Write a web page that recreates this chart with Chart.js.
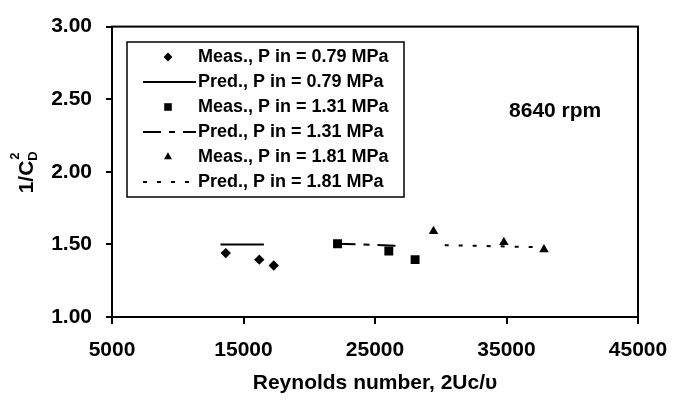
<!DOCTYPE html>
<html>
<head>
<meta charset="utf-8">
<script src="https://cdn.jsdelivr.net/npm/chart.js@4.4.1/dist/chart.umd.min.js"></script>
<style>
  html, body { margin: 0; padding: 0; background: #fff; }
  #wrap { width: 688px; height: 403px; }
</style>
</head>
<body>
<div id="wrap"><canvas id="cd"></canvas></div>
<script>
// values
var meas079X = [13650, 16200, 17300];
var meas079Y = [1.44, 1.395, 1.355];
var pred079X = [13250, 16550];
var pred079Y = [1.50, 1.50];
var meas131X = [22150, 26050, 28050];
var meas131Y = [1.505, 1.455, 1.395];
var pred131X = [22150, 26900];
var pred131Y = [1.505, 1.49];
var meas181X = [29450, 34800, 37850];
var meas181Y = [1.59, 1.515, 1.465];
var pred181X = [30300, 37850];
var pred181Y = [1.495, 1.48];

var seriesLabels = [
    'Meas., P in = 0.79 MPa', 'Pred., P in = 0.79 MPa',
    'Meas., P in = 1.31 MPa', 'Pred., P in = 1.31 MPa',
    'Meas., P in = 1.81 MPa', 'Pred., P in = 1.81 MPa'
];
var xTicks = [5000, 15000, 25000, 35000, 45000];
var yTicks = [1.00, 1.50, 2.00, 2.50, 3.00];
var speedNote = '8640 rpm';

var FONT = '"Liberation Sans", Arial, Helvetica, sans-serif';

function pts(xs, ys) {
    return xs.map(function (x, i) { return { x: x, y: ys[i] }; });
}

function measSet(label, xs, ys, style, r) {
    return {
        label: label, data: pts(xs, ys), showLine: false,
        pointStyle: style, pointRadius: r, pointBorderWidth: 0,
        backgroundColor: '#000', borderColor: '#000'
    };
}
function predSet(label, xs, ys, dash) {
    return {
        label: label, data: pts(xs, ys), showLine: true,
        pointRadius: 0, borderWidth: 2, borderColor: '#000',
        borderDash: dash, backgroundColor: '#000'
    };
}

var datasets = [
    measSet(seriesLabels[0], meas079X, meas079Y, 'rectRot', 5.2),
    predSet(seriesLabels[1], pred079X, pred079Y, []),
    measSet(seriesLabels[2], meas131X, meas131Y, 'rect', 6.3),
    predSet(seriesLabels[3], pred131X, pred131Y, [18, 8, 6, 8]),
    measSet(seriesLabels[4], meas181X, meas181Y, 'triangle', 5.5),
    predSet(seriesLabels[5], pred181X, pred181Y, [4, 10])
];

// frame round the plot area, "8640 rpm" note, y title with sub/superscript
var framePlugin = {
    id: 'frame',
    beforeDraw: function (chart) {
        var ctx = chart.ctx;
        ctx.save();
        ctx.fillStyle = '#fff';
        ctx.fillRect(0, 0, chart.width, chart.height);
        ctx.restore();
    },
    afterDraw: function (chart) {
        var ctx = chart.ctx, a = chart.chartArea;
        ctx.save();
        ctx.strokeStyle = '#000';
        ctx.lineWidth = 2;
        ctx.strokeRect(a.left, a.top, a.right - a.left, a.bottom - a.top);

        // speed note
        ctx.fillStyle = '#000';
        ctx.font = 'bold 21px ' + FONT;
        ctx.textAlign = 'center';
        ctx.textBaseline = 'middle';
        ctx.fillText(speedNote, chart.scales.x.getPixelForValue(38700),
                     chart.scales.y.getPixelForValue(2.42));

        // y title: 1/C_D^2
        var big = 'bold 21px ' + FONT, small = 'bold 13px ' + FONT;
        ctx.font = big;  var w1 = ctx.measureText('1/C').width;
        ctx.font = small; var w2 = ctx.measureText('D').width;
        var total = w1 + w2 + 1;
        ctx.translate(26, (a.top + a.bottom) / 2);
        ctx.rotate(-Math.PI / 2);
        ctx.textAlign = 'left';
        ctx.textBaseline = 'alphabetic';
        var x0 = -total / 2;
        ctx.font = big;   ctx.fillText('1/C', x0, 7);
        ctx.font = small; ctx.fillText('D', x0 + w1, 11);
        ctx.fillText('2', x0 + w1 + 1, -7);
        ctx.restore();
    }
};

// boxed legend inside the plot
var boxLegend = {
    id: 'boxLegend',
    afterDraw: function (chart, args, o) {
        var ctx = chart.ctx;
        ctx.save();
        ctx.fillStyle = '#fff';
        ctx.fillRect(o.left, o.top, o.right - o.left, o.bottom - o.top);
        ctx.strokeStyle = '#000';
        ctx.lineWidth = 1.5;
        ctx.strokeRect(o.left, o.top, o.right - o.left, o.bottom - o.top);
        ctx.font = 'bold 18px ' + FONT;
        ctx.textBaseline = 'middle';
        ctx.textAlign = 'left';
        chart.data.datasets.forEach(function (ds, i) {
            var y = o.firstRow + i * o.rowH;
            ctx.fillStyle = '#000';
            ctx.strokeStyle = '#000';
            if (ds.showLine) {
                ctx.lineWidth = ds.borderWidth;
                ctx.setLineDash(ds.borderDash);
                ctx.beginPath();
                ctx.moveTo(o.lineX0, y);
                ctx.lineTo(o.lineX1, y);
                ctx.stroke();
                ctx.setLineDash([]);
            } else {
                Chart.helpers.drawPoint(ctx, {
                    pointStyle: ds.pointStyle, radius: ds.pointRadius * 0.85,
                    rotation: 0, borderWidth: 0
                }, o.symX, y);
            }
            ctx.fillText(ds.label, o.textX, y);
        });
        ctx.restore();
    }
};

new Chart(document.getElementById('cd'), {
    type: 'scatter',
    data: { datasets: datasets },
    plugins: [framePlugin, boxLegend],
    options: {
        responsive: true,
        maintainAspectRatio: false,
        animation: false,
        devicePixelRatio: 1,
        layout: { padding: { top: 22, right: 50, left: 0, bottom: 0 } },
        plugins: {
            legend: { display: false },
            tooltip: { enabled: false },
            boxLegend: {
                left: 127, top: 42, right: 404, bottom: 197,
                firstRow: 57, rowH: 25,
                symX: 168, lineX0: 143, lineX1: 196, textX: 198
            }
        },
        scales: {
            x: {
                type: 'linear', min: 5000, max: 45000,
                afterFit: function (s) { s.height = 86; },
                afterBuildTicks: function (s) { s.ticks = xTicks.map(function (v) { return { value: v }; }); },
                grid: { drawOnChartArea: false, drawTicks: true, tickLength: 7, color: '#000', lineWidth: 2 },
                border: { display: false },
                ticks: { color: '#000', padding: 14, maxRotation: 0,
                         callback: function (v) { return String(v); },
                         font: { family: FONT, size: 21, weight: 'bold' } },
                title: { display: true, text: 'Reynolds number, 2Uc/\u03C5', color: '#000',
                         padding: { top: 0, bottom: 7 },
                         font: { family: FONT, size: 21, weight: 'bold' } }
            },
            y: {
                type: 'linear', min: 1, max: 3,
                afterFit: function (s) { s.width = 112; },
                afterBuildTicks: function (s) { s.ticks = yTicks.map(function (v) { return { value: v }; }); },
                grid: { drawOnChartArea: false, drawTicks: true, tickLength: 6, color: '#000', lineWidth: 2 },
                border: { display: false },
                ticks: { color: '#000', padding: 14,
                         callback: function (v) { return v.toFixed(2); },
                         font: { family: FONT, size: 21, weight: 'bold' } }
            }
        }
    }
});
</script>
</body>
</html>
